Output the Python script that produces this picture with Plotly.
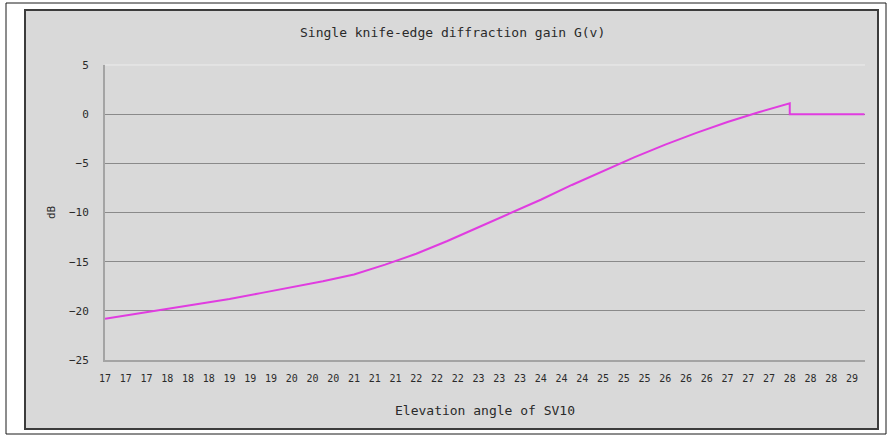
import math
import plotly.graph_objects as go

# Elevation angle of SV10 (degrees) and knife-edge diffraction gain G(v) in dB
elevation = [17.0, 17.5, 18.0, 18.5, 19.0, 19.5, 20.0, 20.5, 21.0, 21.5, 22.0,
             22.5, 23.0, 23.5, 24.0, 24.5, 25.0, 25.5, 26.0, 26.5, 27.0, 27.5,
             28.0, 28.0, 29.2]
gain_db = [-20.8, -20.3, -19.8, -19.3, -18.8, -18.2, -17.6, -17.0, -16.3, -15.3,
           -14.2, -12.9, -11.5, -10.1, -8.7, -7.2, -5.8, -4.4, -3.1, -1.9, -0.8,
           0.2, 1.1, 0.0, 0.0]

# Category-style x labels: one label every 1/3 degree, shown truncated
x_tick_vals = [17 + k / 3 for k in range(37)]
x_tick_text = ["17", "17", "17", "18", "18", "18", "19", "19", "19", "20", "20", "20",
               "21", "21", "21", "22", "22", "22", "23", "23", "23", "24", "24", "24",
               "25", "25", "25", "26", "26", "26", "27", "27", "27", "28", "28", "28",
               "29"]
y_tick_vals = [5, 0, -5, -10, -15, -20, -25]

W, H = 888, 438
L, R, T, B = 105, 865, 65, 360


def px(x):
    return (x - L) / (R - L)


def py(y):
    return (B - y) / (B - T)


FONT = "DejaVu Sans Mono"
TXT = "#2a2a2a"

fig = go.Figure()
fig.add_trace(go.Scatter(
    x=elevation, y=gain_db, mode="lines",
    line=dict(color="#e03ce0", width=2),
    showlegend=False, hoverinfo="skip",
))

fig.update_layout(
    width=W, height=H,
    margin=dict(l=L, r=W - R, t=T, b=H - B),
    paper_bgcolor="white",
    plot_bgcolor="rgba(0,0,0,0)",
    font=dict(family=FONT, color=TXT, size=11),
    xaxis=dict(
        range=[17, 17 + (R - L) / 62.25],
        tickmode="array", tickvals=x_tick_vals, ticktext=x_tick_text,
        showgrid=False, zeroline=False,
        showline=True, linecolor="#a4a4a4", linewidth=2,
        ticks="", ticklabelstandoff=8,
        tickfont=dict(size=10, family=FONT, color=TXT),
    ),
    yaxis=dict(
        range=[-25, 5],
        tickmode="array", tickvals=y_tick_vals,
        showgrid=True, gridcolor="#8a8a8a", gridwidth=1,
        zeroline=False,
        showline=True, linecolor="#a4a4a4", linewidth=2,
        ticks="", ticklabelstandoff=12,
        tickfont=dict(size=11, family=FONT, color=TXT),
    ),
    shapes=[
        # outer frame
        dict(type="rect", xref="paper", yref="paper",
             x0=px(6), x1=px(886), y0=py(434), y1=py(3),
             line=dict(color="#1a1a1a", width=1), fillcolor="white", layer="below"),
        # grey chart panel
        dict(type="rect", xref="paper", yref="paper",
             x0=px(25), x1=px(878), y0=py(429), y1=py(10),
             line=dict(color="#3c3c3c", width=2), fillcolor="#d9d9d9", layer="below"),
        # light top edge of the plot area
        dict(type="line", xref="paper", yref="paper",
             x0=0, x1=1, y0=1, y1=1,
             line=dict(color="#ececec", width=1), layer="above"),
    ],
    annotations=[
        dict(text="Single knife-edge diffraction gain G(v)", xref="paper", yref="paper",
             x=px(452), y=py(33), showarrow=False, xanchor="center", yanchor="middle",
             font=dict(size=13, family=FONT, color=TXT)),
        dict(text="Elevation angle of SV10", xref="paper", yref="paper",
             x=px(485), y=py(410), showarrow=False, xanchor="center", yanchor="middle",
             font=dict(size=13, family=FONT, color=TXT)),
        dict(text="dB", xref="paper", yref="paper", textangle=-90,
             x=px(51), y=py(212), showarrow=False, xanchor="center", yanchor="middle",
             font=dict(size=11, family=FONT, color=TXT)),
    ],
)

fig.write_html("out.html")
